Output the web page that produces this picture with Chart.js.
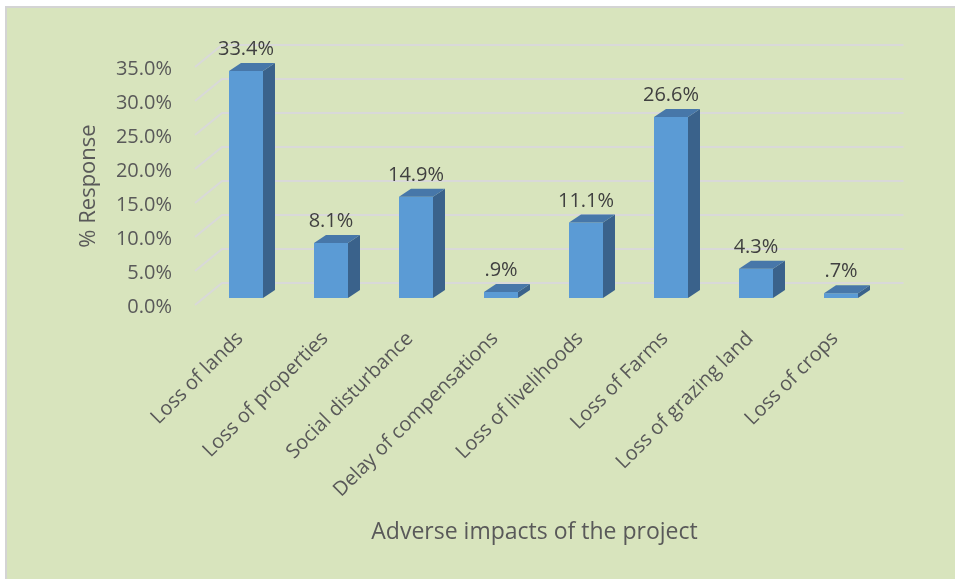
<!DOCTYPE html>
<html>
<head>
<meta charset="utf-8">
<script src="https://cdn.jsdelivr.net/npm/chart.js@4/dist/chart.umd.min.js"></script>
<style>
  html, body { margin: 0; padding: 0; background: #ffffff; }
  #wrap { width: 955px; height: 579px; }
</style>
</head>
<body>
<div id="wrap"><canvas id="c" width="955" height="579"></canvas></div>
<script>
// Survey responses: adverse impacts of the project
const categories = [
  'Loss of lands',
  'Loss of properties',
  'Social disturbance',
  'Delay of compensations',
  'Loss of livelihoods',
  'Loss of Farms',
  'Loss of grazing land',
  'Loss of crops'
];
const responsePct = [33.4, 8.1, 14.9, 0.9, 11.1, 26.6, 4.3, 0.7];
const yTickValues = [0, 5, 10, 15, 20, 25, 30, 35];
const yAxisTitle = '% Response';
const xAxisTitle = 'Adverse impacts of the project';

const FONT = "'Open Sans', sans-serif";
const TEXT_GREY = '#595959';
const LABEL_DARK = '#404040';

// oblique "3-D" offsets relative to the plane of the bar fronts
const BAR_DEPTH = { dx: 12, dy: -8 };
const BACK_WALL = { dx: 18.5, dy: -15 };
const FLOOR_FRONT = { dx: -8.5, dy: 7 };

const pctLabel = v => {
  let s = v.toFixed(1);
  if (s.startsWith('0.')) s = s.slice(1);
  return s + '%';
};

const panel = {
  id: 'panel',
  beforeDraw(chart) {
    const { ctx, width, height } = chart;
    ctx.save();
    ctx.fillStyle = '#ffffff';
    ctx.fillRect(0, 0, width, height);
    ctx.fillStyle = '#d4d4d4';
    ctx.fillRect(5, 6, width - 5, height - 6);
    ctx.fillStyle = '#d8e4bd';
    ctx.fillRect(7, 8, width - 7, height - 8);
    ctx.restore();
  }
};

// gridlines on the side wall and back wall
const walls = {
  id: 'walls',
  beforeDatasetsDraw(chart) {
    const { ctx, chartArea: a, scales: { y } } = chart;
    ctx.save();
    ctx.strokeStyle = '#d9d9d9';
    ctx.lineWidth = 2;
    y.ticks.forEach(t => {
      const py = y.getPixelForValue(t.value);
      ctx.beginPath();
      ctx.moveTo(a.left + FLOOR_FRONT.dx, py + FLOOR_FRONT.dy);
      ctx.lineTo(a.left + BACK_WALL.dx, py + BACK_WALL.dy);
      ctx.lineTo(a.right + BACK_WALL.dx + 1.5, py + BACK_WALL.dy);
      ctx.stroke();
    });
    ctx.restore();
  }
};

// side and top faces of each column, plus its value label
const prism = {
  id: 'prism',
  afterDatasetsDraw(chart) {
    const { ctx } = chart;
    const meta = chart.getDatasetMeta(0);
    const { dx, dy } = BAR_DEPTH;
    ctx.save();
    meta.data.forEach((bar, i) => {
      const { x, y, base, width } = bar.getProps(['x', 'y', 'base', 'width'], true);
      const l = x - width / 2, r = x + width / 2;
      ctx.fillStyle = '#3a628b';
      ctx.beginPath();
      ctx.moveTo(r, y); ctx.lineTo(r + dx, y + dy);
      ctx.lineTo(r + dx, base + dy); ctx.lineTo(r, base);
      ctx.closePath(); ctx.fill();
      ctx.fillStyle = '#4777a9';
      ctx.beginPath();
      ctx.moveTo(l, y); ctx.lineTo(r, y);
      ctx.lineTo(r + dx, y + dy); ctx.lineTo(l + dx, y + dy);
      ctx.closePath(); ctx.fill();

      ctx.fillStyle = LABEL_DARK;
      ctx.font = `20px ${FONT}`;
      ctx.textAlign = 'center';
      ctx.textBaseline = 'alphabetic';
      ctx.fillText(pctLabel(responsePct[i]), x, y - 16);
    });
    ctx.restore();
  }
};

// axis titles, centred on the front edge of the floor / side wall
const axisTitles = {
  id: 'axisTitles',
  afterDraw(chart) {
    const { ctx, chartArea: a, scales: { y } } = chart;
    ctx.save();
    ctx.fillStyle = TEXT_GREY;
    ctx.font = `23px ${FONT}`;
    ctx.textAlign = 'center';
    ctx.textBaseline = 'middle';
    ctx.fillText(xAxisTitle, (a.left + a.right) / 2 - 9, 532);
    const yMid = (y.getPixelForValue(y.min) + y.getPixelForValue(y.max)) / 2 + FLOOR_FRONT.dy;
    ctx.translate(89, yMid);
    ctx.rotate(-Math.PI / 2);
    ctx.font = `22px ${FONT}`;
    ctx.fillText(yAxisTitle, 0, 0);
    ctx.restore();
  }
};

new Chart(document.getElementById('c'), {
  type: 'bar',
  data: {
    labels: categories,
    datasets: [{
      data: responsePct,
      backgroundColor: '#5b9bd5',
      borderWidth: 0,
      categoryPercentage: 1,
      barPercentage: 0.4
    }]
  },
  options: {
    responsive: false,
    animation: false,
    devicePixelRatio: 1,
    layout: { padding: { top: 60, right: 71.5, bottom: 0, left: 0 } },
    plugins: { legend: { display: false }, tooltip: { enabled: false } },
    scales: {
      x: {
        grid: { display: false, drawTicks: false },
        border: { display: false },
        ticks: {
          autoSkip: false,
          minRotation: 45,
          maxRotation: 45,
          padding: 29,
          labelOffset: -6,
          color: TEXT_GREY,
          font: { family: FONT, size: 20 }
        },
        afterFit: s => { s.height = 281; }
      },
      y: {
        min: 0,
        max: 35,
        grid: { display: false, drawTicks: false },
        border: { display: false },
        afterBuildTicks: s => { s.ticks = yTickValues.map(v => ({ value: v })); },
        ticks: {
          padding: 31.5,
          labelOffset: 9,
          color: TEXT_GREY,
          font: { family: FONT, size: 20 },
          callback: v => v.toFixed(1) + '%'
        },
        afterFit: s => { s.width = 203.5; }
      }
    }
  },
  plugins: [panel, walls, prism, axisTitles]
});
</script>
</body>
</html>
